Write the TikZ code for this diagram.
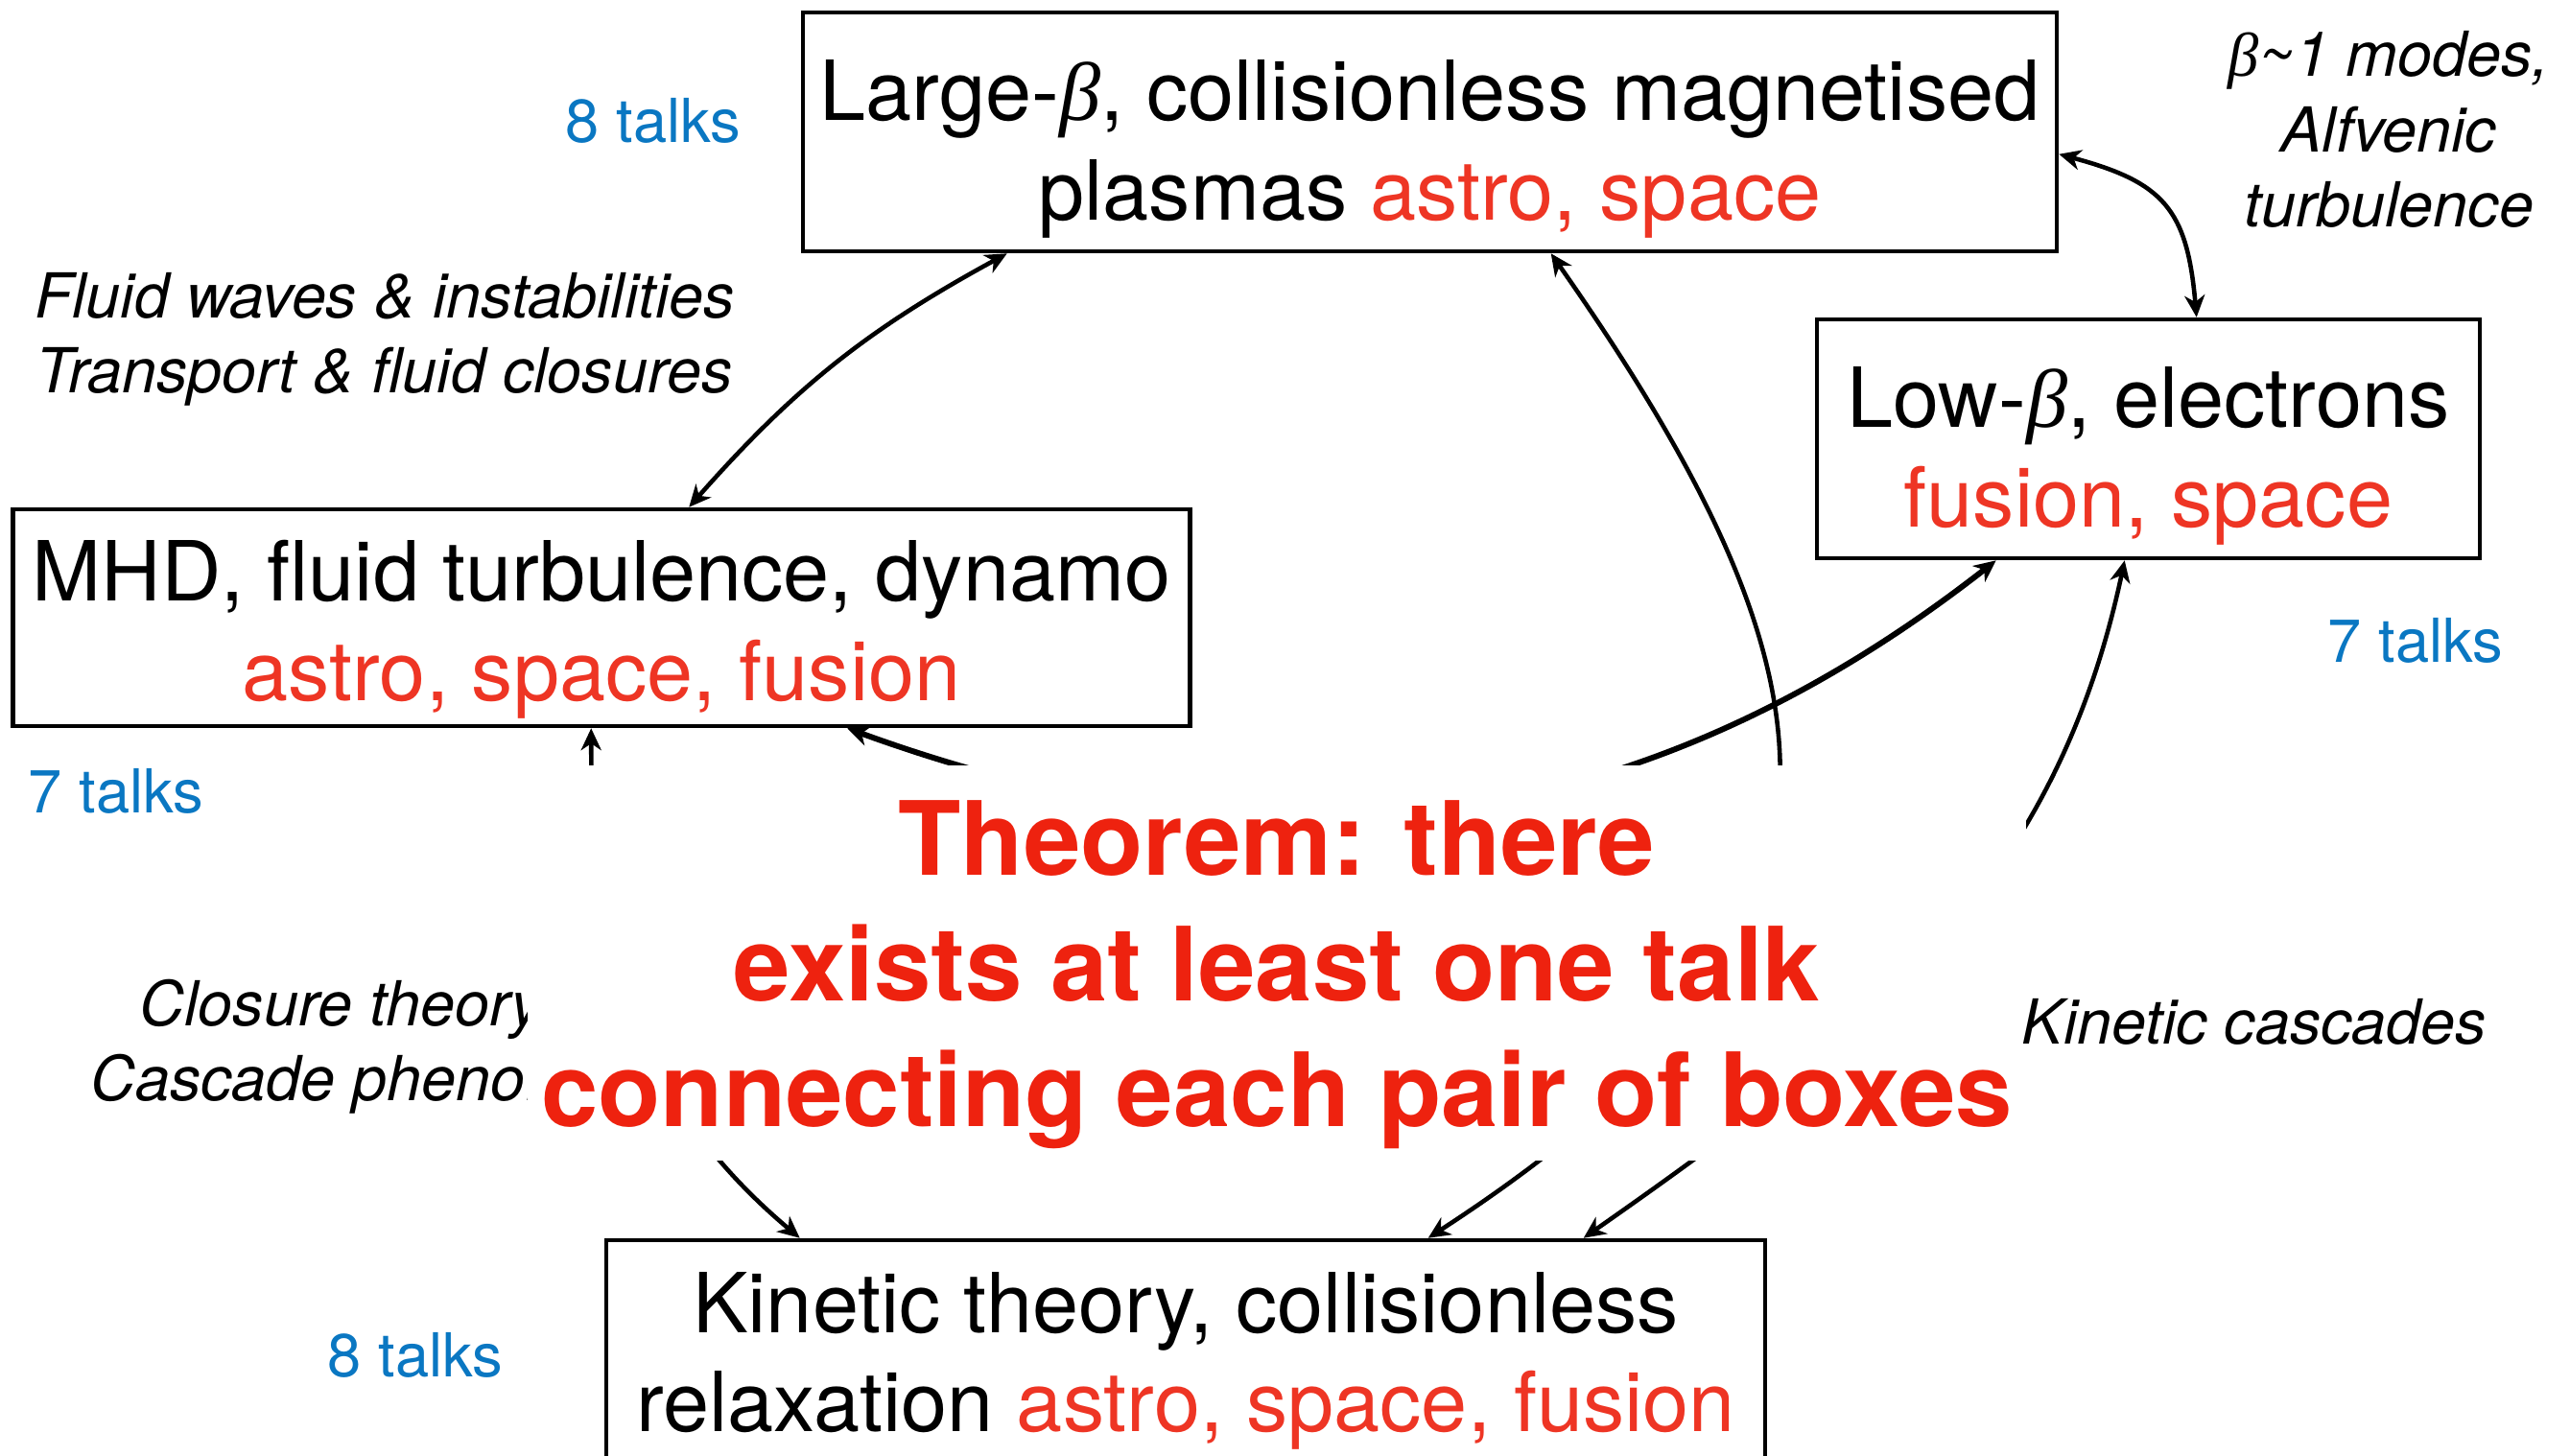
\documentclass[tikz,border=0pt]{standalone}
\usepackage{fontspec}
\setmainfont{TeX Gyre Heros}
\newfontfamily\betafont{Liberation Serif}
\usepackage{xcolor}
\usetikzlibrary{arrows.meta}
\definecolor{boxred}{HTML}{EE3524}
\definecolor{thmred}{HTML}{EE220F}
\definecolor{talkblue}{HTML}{0A77C2}
\newcommand{\lift}[1][25pt]{\rule{0pt}{#1}}
\newcommand{\where}[1]{\textcolor{boxred}{#1}}
\newcommand{\pbeta}{{\betafont\itshape β}}
\tikzset{
  topicbox/.style={draw=black,line width=1.3pt,align=center,inner sep=0pt,font=\fontsize{24.6}{29.5}\selectfont},
  talks/.style={text=talkblue,inner sep=0pt,font=\fontsize{18}{22}\selectfont},
  remark/.style={align=center,inner sep=0pt,font=\fontsize{18.4}{22.3}\selectfont\itshape},
  theorem/.style={fill=white,inner sep=0pt,align=center,text=thmred,minimum width=15.62cm,minimum height=4.12cm,font=\fontsize{30.4}{37.2}\selectfont\bfseries},
  link/.style={<->,>={Stealth[length=6.5pt,width=6pt,inset=2pt]},line width=1.3pt},
}

\begin{document}
\begin{tikzpicture}
  \useasboundingbox (0,0) rectangle (26.79,-15.17);
  \node[topicbox,minimum width=13.07cm,minimum height=2.49cm] (large) at (14.905,-1.375)
    {\lift[28pt]Large-\pbeta, collisionless magnetised\\ plasmas \where{astro, space}};
  \node[topicbox,minimum width=6.91cm,minimum height=2.49cm] (low) at (22.395,-4.575)
    {\lift[28pt]Low-\pbeta, electrons\\ \where{fusion, space}};
  \node[topicbox,minimum width=12.27cm,minimum height=2.26cm] (mhd) at (6.27,-6.44)
    {\lift MHD, fluid turbulence, dynamo\\ \where{astro, space, fusion}};
  \node[topicbox,minimum width=12.08cm,minimum height=2.52cm] (kinetic) at (12.36,-14.19)
    {Kinetic theory, collisionless\\ relaxation \where{astro, space, fusion}};
  \draw[link] ([xshift=2.15cm]large.south west) to[bend right=10] ([xshift=7.07cm]mhd.north west);
  \draw[link] ([yshift=-1.50cm]large.north east) to[out=-15,in=95,looseness=1.3] ([xshift=3.98cm]low.north west);
  \draw[link] ([xshift=6.05cm]mhd.south west) to[out=-90,in=140] ([xshift=2.04cm]kinetic.north west);
  \draw[link,line width=1.7pt] ([xshift=8.72cm]mhd.south west) to[out=-20,in=218] ([xshift=1.89cm]low.south west);
  \draw[link] ([xshift=7.82cm]large.south west) to[out=-55,in=33,looseness=1.4] ([xshift=8.59cm]kinetic.north west);
  \draw[link] ([xshift=3.23cm]low.south west) to[out=-102,in=35] ([xshift=10.21cm]kinetic.north west);
  \node[remark,align=right,anchor=east] (closure) at (5.66,-10.91) {Closure theory\\ Cascade pheno.};
  \node[theorem] (thm) at (13.31,-10.04)
    {\rule{0pt}{29pt}Theorem: there\\ exists at least one talk\\ connecting each pair of boxes};
  \node[remark] (fluid) at (4.01,-3.54) {Fluid waves \& instabilities\\ Transport \& fluid closures};
  \node[remark] (alfven) at (24.90,-1.35) {\pbeta\textasciitilde1 modes,\\ Alfvenic\\ turbulence};
  \node[remark] (cascades) at (23.50,-10.65) {Kinetic cascades};
  \node[talks] (nlarge) at (6.81,-1.26) {8 talks};
  \node[talks] (nlow) at (25.18,-6.68) {7 talks};
  \node[talks] (nmhd) at (1.21,-8.25) {7 talks};
  \node[talks] (nkinetic) at (4.33,-14.13) {8 talks};
\end{tikzpicture}
\end{document}
